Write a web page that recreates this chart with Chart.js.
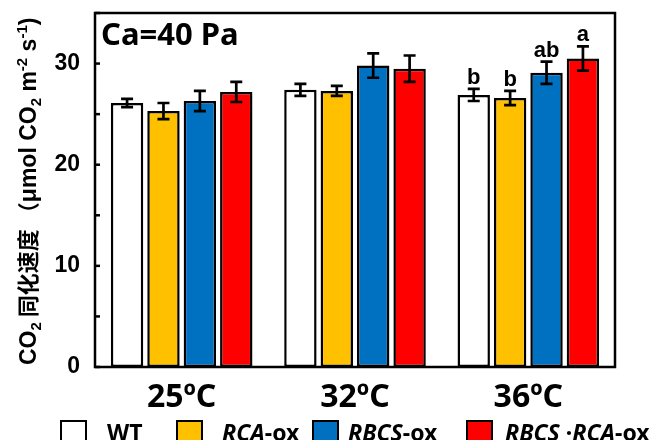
<!DOCTYPE html>
<html><head><meta charset="utf-8">
<script src="https://cdn.jsdelivr.net/npm/chart.js@4"></script>
<style>html,body{margin:0;padding:0;background:#fff}canvas{display:block}</style>
</head><body>
<canvas id="c" width="660" height="440"></canvas>
<script>
const categories = ['25ºC', '32ºC', '36ºC'];
const seriesNames = ['WT', 'RCA-ox', 'RBCS-ox', 'RBCS·RCA-ox'];
const wtValues = [26.1, 27.4, 26.9];
const wtErrors = [0.4, 0.6, 0.6];
const rcaValues = [25.3, 27.3, 26.6];
const rcaErrors = [0.8, 0.5, 0.7];
const rbcsValues = [26.3, 29.8, 29.1];
const rbcsErrors = [1.0, 1.2, 1.1];
const bothValues = [27.2, 29.5, 30.5];
const bothErrors = [1.0, 1.3, 1.2];
const wtLetters = ['', '', 'b'];
const rcaLetters = ['', '', 'b'];
const rbcsLetters = ['', '', 'ab'];
const bothLetters = ['', '', 'a'];
const yTicks = [0, 10, 20, 30];

const colors = ['#FFFFFF', '#FFC000', '#0070C0', '#FF0000'];
const errs = [wtErrors, rcaErrors, rbcsErrors, bothErrors];
const letters = [wtLetters, rcaLetters, rbcsLetters, bothLetters];
const vals = [wtValues, rcaValues, rbcsValues, bothValues];

const legendParts = [
  [['WT', '']],
  [['RCA', 'italic '], ['-ox', '']],
  [['RBCS', 'italic '], ['-ox', '']],
  [['RBCS', 'italic '], [' ·', ''], ['RCA', 'italic '], ['-ox', '']]
];

const LATIN = '"Liberation Sans", Arial, "Noto Sans CJK SC"';
const CJK = '"Noto Sans CJK SC", "Liberation Sans"';
const SANS = '"Noto Sans", "Open Sans", sans-serif';

// y-axis title pieces: [text, font, size, baseline shift]
const yTitleParts = [
  ['CO', LATIN, 23, 0], ['2', LATIN, 15, 5], [' 同化速度 （', CJK, 22, 0],
  ['μmol CO', LATIN, 23, 0], ['2', LATIN, 15, 5], [' m', LATIN, 23, 0],
  ['-2', LATIN, 15, -9], [' s', LATIN, 23, 0], ['-1', LATIN, 15, -9], [')', LATIN, 23, 0]
];

const decor = {
  id: 'decor',
  afterDatasetsDraw(chart) {
    const ctx = chart.ctx;
    const y = chart.scales.y;
    const ca = chart.chartArea;
    ctx.save();
    chart.data.datasets.forEach((ds, di) => {
      const meta = chart.getDatasetMeta(di);
      meta.data.forEach((el, i) => {
        const v = ds.data[i], e = errs[di][i];
        const yt = y.getPixelForValue(v + e), yb = y.getPixelForValue(v - e);
        ctx.strokeStyle = '#000';
        ctx.lineWidth = 2.7;
        ctx.beginPath();
        ctx.moveTo(el.x, yt); ctx.lineTo(el.x, yb);
        ctx.moveTo(el.x - 6, yt); ctx.lineTo(el.x + 6, yt);
        ctx.moveTo(el.x - 6, yb); ctx.lineTo(el.x + 6, yb);
        ctx.stroke();
        const L = letters[di][i];
        if (L) {
          ctx.fillStyle = '#000';
          ctx.font = 'bold 22px ' + LATIN;
          ctx.textAlign = 'center';
          ctx.textBaseline = 'alphabetic';
          ctx.fillText(L, el.x, yt - 5);
        }
      });
    });
    ctx.strokeStyle = '#000';
    ctx.lineWidth = 2.5;
    ctx.strokeRect(ca.left, ca.top, ca.right - ca.left, ca.bottom - ca.top);
    y.ticks.forEach(t => {
      const py = y.getPixelForValue(t.value);
      ctx.beginPath();
      ctx.moveTo(ca.left, py); ctx.lineTo(ca.left + 5, py);
      ctx.stroke();
    });
    ctx.fillStyle = '#000';
    ctx.font = 'bold 31px ' + SANS;
    ctx.textAlign = 'left';
    ctx.textBaseline = 'alphabetic';
    ctx.fillText('Ca=40 Pa', ca.left + 6, ca.top + 32);
    // y-axis title (rotated)
    ctx.save();
    ctx.translate(36, ca.bottom - 2);
    ctx.rotate(-Math.PI / 2);
    let tx = 0;
    yTitleParts.forEach(([s, f, sz, sh]) => {
      ctx.font = 'bold ' + sz + 'px ' + f;
      ctx.fillText(s, tx, sh);
      tx += ctx.measureText(s).width;
    });
    ctx.restore();
    // legend
    const boxX = [61, 177, 313, 467];
    const txtX = [107, 222, 348, 505];
    chart.data.datasets.forEach((ds, di) => {
      ctx.fillStyle = colors[di];
      ctx.fillRect(boxX[di], 421, 25, 26);
      ctx.lineWidth = 2;
      ctx.strokeStyle = '#000';
      ctx.strokeRect(boxX[di], 421, 25, 26);
      let x = txtX[di];
      ctx.fillStyle = '#000';
      legendParts[di].forEach(([s, st]) => {
        ctx.font = st + 'bold 23px ' + SANS;
        ctx.fillText(s, x, 441);
        x += ctx.measureText(s).width;
      });
    });
    ctx.restore();
  }
};

new Chart(document.getElementById('c'), {
  type: 'bar',
  data: {
    labels: categories,
    datasets: vals.map((v, i) => ({
      label: seriesNames[i],
      data: v,
      backgroundColor: colors[i],
      borderColor: '#000',
      borderWidth: 2.5,
      borderSkipped: false,
      categoryPercentage: 0.84,
      barPercentage: 0.89
    }))
  },
  options: {
    responsive: false,
    animation: false,
    layout: { padding: { top: 13, right: 45, left: 0, bottom: 0 } },
    plugins: { legend: { display: false }, tooltip: { enabled: false } },
    scales: {
      x: {
        grid: { display: false, drawTicks: false },
        border: { display: false },
        ticks: { color: '#000', font: { family: SANS, size: 32, weight: 'bold' }, padding: 12 },
        afterFit(s) { s.height = 73; s.paddingLeft = 0; s.paddingRight = 0; }
      },
      y: {
        min: 0, max: 35,
        afterBuildTicks(s) {
          s.ticks = [0, 5, 10, 15, 20, 25, 30, 35].map(v => ({ value: v }));
        },
        grid: { display: false, drawTicks: false },
        border: { display: false },
        ticks: {
          color: '#000',
          font: { family: LATIN, size: 23, weight: 'bold' },
          padding: 15,
          callback: v => yTicks.includes(v) ? String(v) : ''
        },
        title: { display: false },
        afterFit(s) { s.width = 95; s.paddingTop = 0; s.paddingBottom = 0; }
      }
    }
  },
  plugins: [decor]
});
</script>
</body></html>
